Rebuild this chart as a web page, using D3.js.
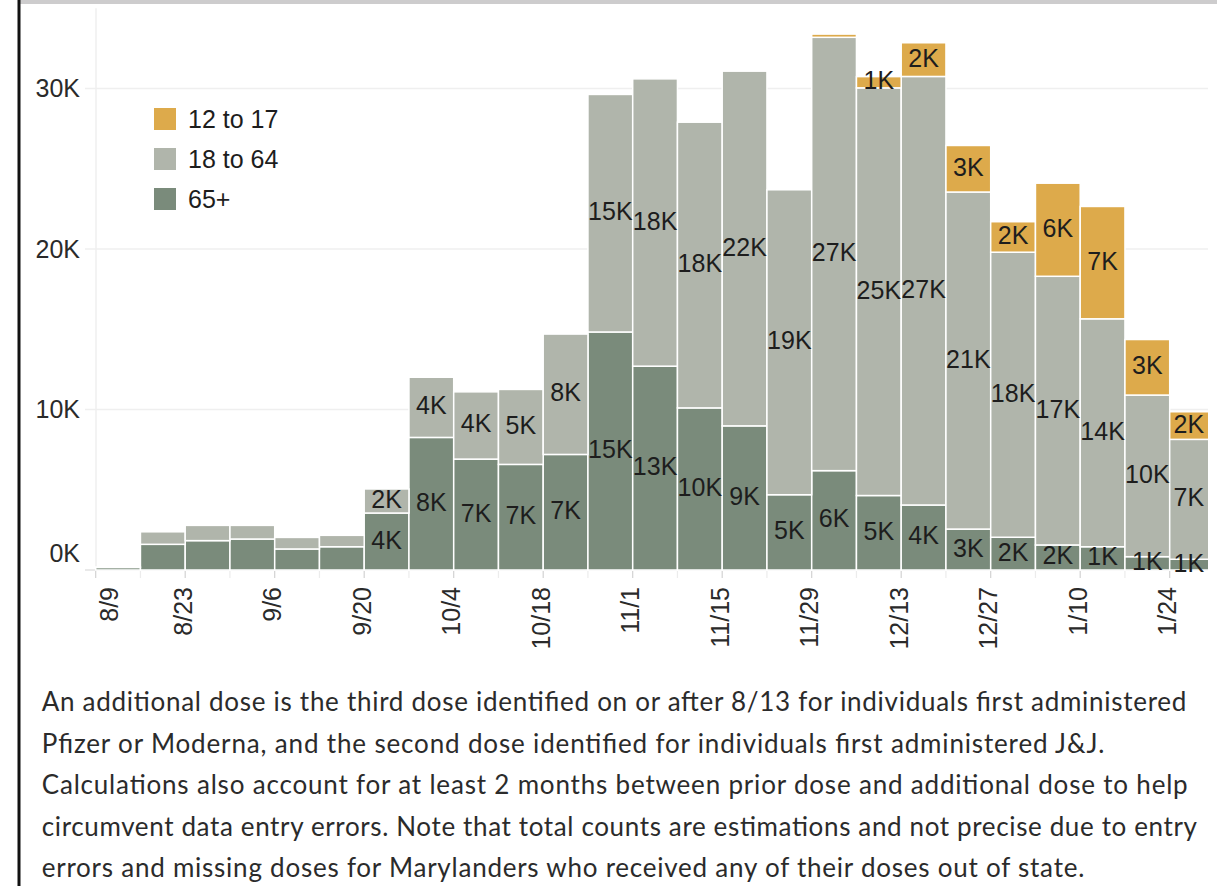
<!DOCTYPE html>
<html>
<head>
<meta charset="utf-8">
<script src="https://cdn.jsdelivr.net/npm/d3@7"></script>
<style>
  html, body { margin: 0; padding: 0; background: #fff; }
  svg { display: block; }
</style>
</head>
<body>
<svg id="chart" width="1217" height="886"></svg>
<script>
// ---------------- DATA ----------------
const weeks = ["8/9","8/16","8/23","8/30","9/6","9/13","9/20","9/27","10/4","10/11","10/18","10/25",
               "11/1","11/8","11/15","11/22","11/29","12/6","12/13","12/20","12/27","1/3","1/10","1/17","1/24"];
const tickWeeks = ["8/9","8/23","9/6","9/20","10/4","10/18","11/1","11/15","11/29","12/13","12/27","1/10","1/24"];
// additional doses by age group per week
const age65plus = [160,1600,1830,1930,1310,1450,3550,8260,6910,6580,7200,14830,
                   12700,10100,8980,4690,6190,4640,4050,2550,2040,1560,1450,830,670];
const age18to64 = [20,780,950,850,720,710,1500,3750,4190,4670,7500,14800,
                   17900,17800,22100,19000,27000,25400,26700,21000,17760,16740,14200,10070,7470];
const age12to17 = [0,0,0,0,0,0,0,0,0,0,0,0,
                   0,0,0,0,200,700,2100,2900,1900,5800,7000,3460,1720];
const seriesKeys = ["65+","18 to 64","12 to 17"];
const legendKeys = ["12 to 17","18 to 64","65+"];
const yTickValues = [0,10000,20000,30000];
const footnoteLines = [
  "An additional dose is the third dose identified on or after 8/13 for individuals first administered",
  "Pfizer or Moderna, and the second dose identified for individuals first administered J&J.",
  "Calculations also account for at least 2 months between prior dose and additional dose to help",
  "circumvent data entry errors. Note that total counts are estimations and not precise due to entry",
  "errors and missing doses for Marylanders who received any of their doses out of state."
];

// ---------------- LAYOUT ----------------
const W = 1217, H = 886;
const plotLeft = 85, plotRight = 1208, x0 = 95.7, step = 44.75;
const yBase = 570, pxPerK = 16.05;
const chartFont = "'Liberation Sans', Arial, sans-serif";
const noteFont = "Lato, 'Open Sans', sans-serif";

const svg = d3.select("#chart");

const table = weeks.map((w, i) => ({
  week: w, "65+": age65plus[i], "18 to 64": age18to64[i], "12 to 17": age12to17[i],
  total: age65plus[i] + age18to64[i] + age12to17[i]
}));

const x = d3.scaleBand().domain(weeks).range([x0, x0 + step * weeks.length]).padding(0);
const y = d3.scaleLinear().domain([0, 35000]).range([yBase, yBase - 35 * pxPerK]);
const color = d3.scaleOrdinal().domain(seriesKeys).range(["#7A8B7B", "#B0B5AB", "#DDAA4B"]);
const fmt = v => Math.round(v / 1000) + "K";

// frame
svg.append("rect").attr("x", 20).attr("y", 0).attr("width", W - 20).attr("height", 4).attr("fill", "#CDCCCD");
svg.append("rect").attr("x", 17.5).attr("y", 0).attr("width", 3).attr("height", H).attr("fill", "#111");

// clip
svg.append("defs").append("clipPath").attr("id", "plotclip")
  .append("rect").attr("x", plotLeft).attr("y", 0).attr("width", plotRight - plotLeft).attr("height", yBase + 20);

// gridlines
const grid = svg.append("g");
grid.selectAll("line.h").data(yTickValues).join("line")
  .attr("x1", plotLeft).attr("x2", plotRight)
  .attr("y1", d => y(d)).attr("y2", d => y(d))
  .attr("stroke", d => d === 0 ? "#E2E2E2" : "#EFEFEF").attr("stroke-width", 1.5);
grid.append("line").attr("x1", 96).attr("x2", 96).attr("y1", y(35000)).attr("y2", yBase)
  .attr("stroke", "#EFEFEF").attr("stroke-width", 1.5);

// x ticks
const tickSet = new Set(tickWeeks);
svg.append("g").selectAll("line").data(weeks).join("line")
  .attr("x1", d => x(d)).attr("x2", d => x(d))
  .attr("y1", yBase).attr("y2", yBase + 8)
  .attr("stroke", d => tickSet.has(d) ? "#D2D2D2" : "#ECECEC").attr("stroke-width", 1.2);

// bars
const stacked = d3.stack().keys(seriesKeys)(table);
const barsG = svg.append("g").attr("clip-path", "url(#plotclip)");
stacked.forEach(layer => {
  barsG.append("g").selectAll("rect")
    .data(layer.filter(d => d[1] - d[0] > 0)).join("rect")
    .attr("x", d => x(d.data.week))
    .attr("y", d => y(d[1]))
    .attr("width", x.bandwidth())
    .attr("height", d => y(d[0]) - y(d[1]))
    .attr("fill", color(layer.key))
    .attr("stroke", "#fff").attr("stroke-width", 1.5);
});

// bar labels
const labelsG = svg.append("g").attr("font-family", chartFont).attr("font-size", 25).attr("fill", "#1d1d1d");
stacked.forEach(layer => {
  labelsG.append("g").selectAll("text")
    .data(layer.filter(d => (d[1] - d[0]) >= 500 && d.data.total >= 4000)).join("text")
    .attr("x", d => {
      const l = x(d.data.week), r = Math.min(l + x.bandwidth(), plotRight);
      return (l + r) / 2;
    })
    .attr("y", d => (y(d[0]) + y(d[1])) / 2)
    .attr("dy", "0.28em")
    .attr("text-anchor", "middle")
    .text(d => fmt(d[1] - d[0]));
});

// y axis labels
svg.append("g").attr("font-family", chartFont).attr("font-size", 25).attr("fill", "#2a2a2a")
  .selectAll("text").data(yTickValues).join("text")
  .attr("x", 80).attr("y", d => y(d) - (d === 0 ? 17 : 0)).attr("dy", "0.35em")
  .attr("text-anchor", "end")
  .text(d => fmt(d));

// x axis labels (rotated)
svg.append("g").attr("font-family", chartFont).attr("font-size", 25).attr("fill", "#2a2a2a")
  .selectAll("text").data(tickWeeks).join("text")
  .attr("transform", (d, i) => `translate(${x(d) + (i === 0 ? 14 : -2)},587) rotate(-90)`)
  .attr("text-anchor", "end").attr("dy", "0.35em")
  .text(d => d);

// legend
const leg = svg.append("g").attr("font-family", chartFont).attr("font-size", 25).attr("fill", "#1d1d1d");
legendKeys.forEach((k, i) => {
  leg.append("rect").attr("x", 154).attr("y", 108 + 40 * i).attr("width", 22).attr("height", 22).attr("fill", color(k));
  leg.append("text").attr("x", 188).attr("y", 119 + 40 * i).attr("dy", "0.35em").text(k);
});

// footnote
const noteBase = [711, 752.5, 794, 835.5, 877];
const noteWidths = [1144.6, 1062.6, 1146, 1155.3, 1042.6];
const noteG = svg.append("g").attr("font-family", noteFont).attr("fill", "#2b2b2b");
const probe = noteG.append("text").attr("font-size", 23).text(footnoteLines[0]);
const natural = probe.node().getComputedTextLength();
probe.remove();
const noteSize = Math.max(20, Math.min(26, 23 * noteWidths[0] / natural));
noteG.attr("font-size", noteSize);
noteG.selectAll("text").data(footnoteLines).join("text")
  .attr("x", 41.7).attr("y", (d, i) => noteBase[i])
  .attr("textLength", (d, i) => noteWidths[i]).attr("lengthAdjust", "spacing")
  .text(d => d);
</script>
</body>
</html>
